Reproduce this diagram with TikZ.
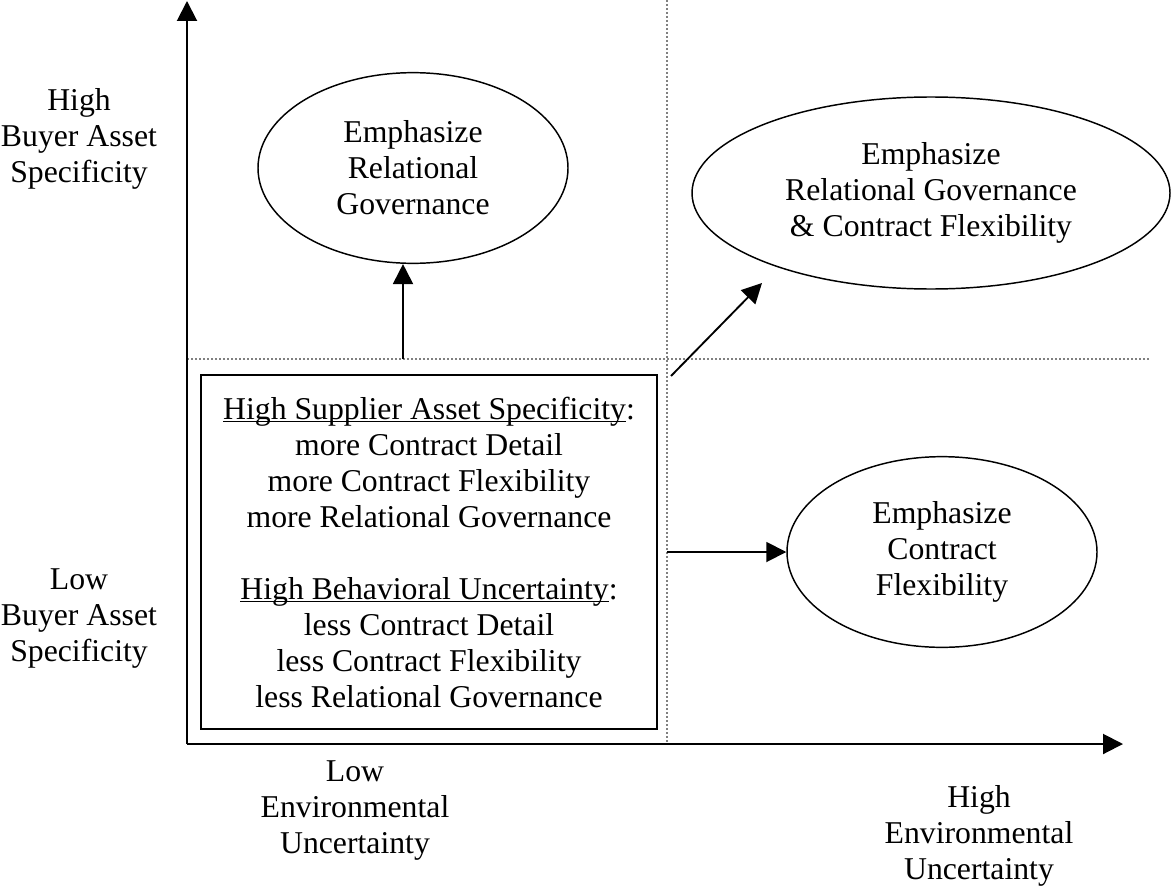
\documentclass[tikz,border=0pt]{standalone}
\usepackage{fontspec}
\setmainfont{Liberation Serif}
\usepackage{tikz}
\usetikzlibrary{arrows.meta,shapes,positioning}

% underline that sits just under the baseline
\newcommand{\headul}[1]{\leavevmode\setbox0\hbox{#1}\rlap{\rule[-2.5pt]{\wd0}{0.9pt}}\box0}

\begin{document}
\begin{tikzpicture}
  [%
 x=0.75pt,y=-0.75pt,
 every node/.style={
  font=\fontsize{23.8}{27}\selectfont,
  align=center},
 outcome/.style={
  ellipse,
  draw=black,
  line width=1.1pt, % border
  inner sep=0pt,
  minimum width=232.5pt,
  minimum height=143pt},
 effectbox/.style={
  rectangle,
  draw=black,
  line width=1.3pt,
  inner sep=0pt,
  minimum width=342pt,
  minimum height=266pt},
 quadline/.style={gray, line width=1pt, dash pattern=on 1.5pt off 1.5pt},
 axis/.style={-{Triangle[length=15pt,width=15pt]}, line width=1.5pt},
 tip/.style={-{Triangle[length=15pt,width=15pt]}, line width=1.4pt}]
\useasboundingbox (0,0) rectangle (1173,888);
% quadrant lines
\draw[quadline] (667,0) -- (667,744);
\draw[quadline] (187,359) -- (1150,359);
% axes
\coordinate (origin) at (187,744);
\coordinate (ytop) at (187,1);
\coordinate (xend) at (1123,744);
\draw[axis] (origin) -- (ytop);
\draw[axis] (origin) -- (xend);
% axis labels
\node (highbuyer) at (79,139) {High\\Buyer Asset\\Specificity};
\node (lowbuyer) at (79,619) {Low\\Buyer Asset\\Specificity};
\node (lowenv) at (355,811) {Low\\Environmental\\Uncertainty};
\node (highenv) at (979,836) {High\\Environmental\\Uncertainty};
% effects box
\node (effects) [effectbox] at (429,552) {\headul{High Supplier Asset Specificity}:\\
more Contract Detail\\more Contract Flexibility\\more Relational Governance\\[27pt]
\headul{High Behavioral Uncertainty}:\\
less Contract Detail\\less Contract Flexibility\\less Relational Governance};
% outcomes
\node (relgov) [outcome] at (413,168) {Emphasize\\Relational\\Governance};
\node (both) [outcome, minimum width=358.5pt, minimum height=144pt] at (931,193) {Emphasize\\Relational Governance\\\& Contract Flexibility};
\node (flex) [outcome] at (942,552) {Emphasize\\Contract\\Flexibility};
% arrows
\coordinate (upstart) at (403,359);
\coordinate (diagstart) at (671,376);
\coordinate (diagend) at (762,283);
\coordinate (rightstart) at (667,552);
\draw[tip] (upstart) -- (upstart |- relgov.south);
\draw[tip] (diagstart) -- (diagend);
\draw[tip] (rightstart) -- (flex.west);
\end{tikzpicture}
\end{document}
